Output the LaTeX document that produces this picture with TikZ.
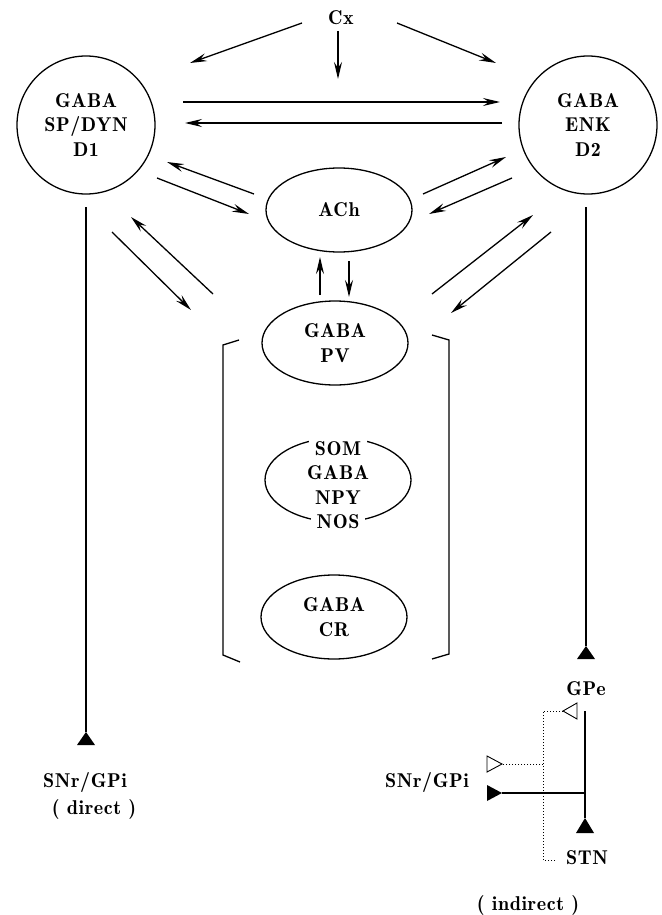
\documentclass[tikz,border=0pt]{standalone}
\usepackage{fontspec}
\setmainfont{lmromandemi10-regular.otf}[LetterSpace=3]
\usetikzlibrary{shapes.geometric,arrows.meta}
\begin{document}
\begin{tikzpicture}[x=1pt,y=-1pt,line width=1.3pt,
  every node/.style={font=\fontsize{20}{24.5}\selectfont, align=center, inner sep=0pt},
  cell/.style={circle, draw, minimum size=138pt},
  group/.style={ellipse, draw, minimum width=146pt, minimum height=84pt},
  lbl/.style={anchor=base},
  arr/.style={-{Stealth[length=17pt,width=8pt,inset=6pt]}},
  fterm/.style={fill=black},
  oterm/.style={draw, fill=white, line width=0.9pt, line join=miter},
  dotline/.style={dotted, line width=1pt}]
\useasboundingbox (0,0) rectangle (661,915);

% nodes
\node[lbl] (cx) at (341,25) {Cx};
\node[cell] (d1) at (86,125) {GABA\\SP/DYN\\D1};
\node[cell] (d2) at (588,125) {GABA\\ENK\\D2};
\node[group] (ach) at (339,210) {ACh};
\node[group] (pv) at (335,343) {GABA\\PV};
\node[group] (som) at (338,480) {};
\node (somtxt) at (338,485) {\fboxsep=6pt\colorbox{white}{SOM}\\GABA\\NPY\\\fboxsep=6pt\colorbox{white}{NOS}};
\node[group] (cr) at (334,617) {GABA\\CR};

\node[lbl] (snrd) at (85,787) {SNr/GPi};
\node[lbl] (direct) at (94,814) {( direct )};
\node[lbl] (gpe) at (586,695) {GPe};
\node[lbl] (snri) at (427,787) {SNr/GPi};
\node[lbl] (stn) at (587,864) {STN};
\node[lbl] (indirect) at (528,910) {( indirect )};

% connector end points
\coordinate (cxl0) at (302,23);  \coordinate (cxl1) at (190,63);
\coordinate (cxm0) at (338,31);  \coordinate (cxm1) at (338,79);
\coordinate (cxr0) at (397,23);  \coordinate (cxr1) at (496,63);
\coordinate (h10) at (183,102);  \coordinate (h11) at (500,102);
\coordinate (h20) at (502,123);  \coordinate (h21) at (185,123);
\coordinate (la0) at (254,194);  \coordinate (la1) at (167,162);
\coordinate (lb0) at (157,178);  \coordinate (lb1) at (249,214);
\coordinate (ra0) at (423,194);  \coordinate (ra1) at (506,157);
\coordinate (rb0) at (512,178);  \coordinate (rb1) at (429,214);
\coordinate (vu0) at (320,295);  \coordinate (vu1) at (320,257);
\coordinate (vd0) at (349,261);  \coordinate (vd1) at (349,297);
\coordinate (lp0) at (112,232);  \coordinate (lp1) at (191,310);
\coordinate (lq0) at (213,294);  \coordinate (lq1) at (131,217);
\coordinate (rp0) at (432,294);  \coordinate (rp1) at (533,215);
\coordinate (rq0) at (551,232);  \coordinate (rq1) at (451,313);

% arrows
\draw[arr] (cxl0) -- (cxl1);
\draw[arr] (cxm0) -- (cxm1);
\draw[arr] (cxr0) -- (cxr1);
\draw[arr] (h10) -- (h11);
\draw[arr] (h20) -- (h21);
\draw[arr] (la0) -- (la1);
\draw[arr] (lb0) -- (lb1);
\draw[arr] (ra0) -- (ra1);
\draw[arr] (rb0) -- (rb1);
\draw[arr] (vu0) -- (vu1);
\draw[arr] (vd0) -- (vd1);
\draw[arr] (lp0) -- (lp1);
\draw[arr] (lq0) -- (lq1);
\draw[arr] (rp0) -- (rp1);
\draw[arr] (rq0) -- (rq1);

% brackets
\draw (239,340) -- (223,345) -- (223,655) -- (240,662);
\draw (432,335) -- (449,340) -- (449,654) -- (432,659);

% direct pathway
\coordinate (dtop) at (86,207);
\coordinate (dtip) at (86,732);
\draw (dtop) -- (dtip);
\fill[fterm] (dtip) -- (77,745) -- (95,745) -- cycle;

% indirect pathway
\coordinate (itop) at (586,207);
\coordinate (itip) at (586,646);
\draw (itop) -- (itip);
\fill[fterm] (itip) -- (577,659) -- (595,659) -- cycle;

% GPe -> STN / SNr
\coordinate (gtop) at (585,711);
\coordinate (stip) at (585,818);
\coordinate (gbr) at (585,793);
\coordinate (snrtip) at (502,793);
\draw (gtop) -- (stip);
\fill[fterm] (stip) -- (576,833) -- (594,833) -- cycle;
\draw (gbr) -- (snrtip);
\fill[fterm] (snrtip) -- (487,785) -- (487,801) -- cycle;

% STN -> GPe / SNr (dotted)
\coordinate (stnend) at (555,860);
\coordinate (dcorner) at (543,860);
\coordinate (dtopc) at (543,711);
\coordinate (gpetip) at (563,711);
\coordinate (dbr) at (543,764);
\coordinate (osnrtip) at (502,764);
\draw[dotline] (stnend) -- (dcorner) -- (dtopc) -- (gpetip);
\draw[dotline] (dbr) -- (osnrtip);
\draw[oterm] (gpetip) -- (577,703) -- (577,719) -- cycle;
\draw[oterm] (osnrtip) -- (487,756) -- (487,772) -- cycle;
\end{tikzpicture}
\end{document}
